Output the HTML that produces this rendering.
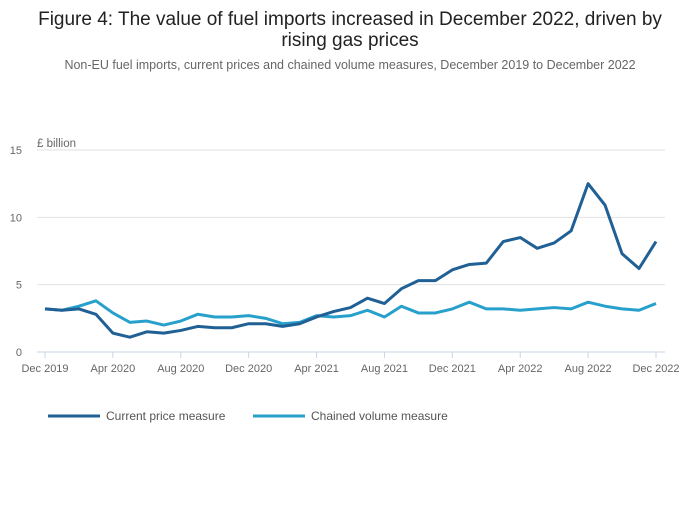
<!DOCTYPE html>
<html><head><meta charset="utf-8"><style>
body{margin:0;background:#fff;font-family:"Liberation Sans",sans-serif;}
</style></head><body>
<svg width="700" height="502" xmlns="http://www.w3.org/2000/svg" font-family="Liberation Sans, sans-serif">
<text x="350" y="25" text-anchor="middle" font-size="19" fill="#222">Figure 4: The value of fuel imports increased in December 2022, driven by</text>
<text x="350" y="46" text-anchor="middle" font-size="19" fill="#222">rising gas prices</text>
<text x="350" y="69" text-anchor="middle" font-size="12.5" fill="#666">Non-EU fuel imports, current prices and chained volume measures, December 2019 to December 2022</text>
<text x="37" y="147" font-size="11.5" fill="#666">£ billion</text>
<g id="grid"></g><g id="xaxis"></g><g id="lines"></g>
<g>
<line x1="48" y1="416" x2="100" y2="416" stroke="#206095" stroke-width="3"/>
<text x="106" y="420" font-size="12" fill="#555">Current price measure</text>
<line x1="253" y1="416" x2="305" y2="416" stroke="#27a0cc" stroke-width="3"/>
<text x="311" y="420" font-size="12" fill="#555">Chained volume measure</text>
</g>
</svg>
<script>
const months=37;
const yTicks=[0,5,10,15];
const xTickLabels=["Dec 2019","Apr 2020","Aug 2020","Dec 2020","Apr 2021","Aug 2021","Dec 2021","Apr 2022","Aug 2022","Dec 2022"];
const currentPrice=[3.2,3.1,3.2,2.8,1.4,1.1,1.5,1.4,1.6,1.9,1.8,1.8,2.1,2.1,1.9,2.1,2.6,3.0,3.3,4.0,3.6,4.7,5.3,5.3,6.1,6.5,6.6,8.2,8.5,7.7,8.1,9.0,12.5,10.9,7.3,6.2,8.2];
const chainedVolume=[3.2,3.1,3.4,3.8,2.9,2.2,2.3,2.0,2.3,2.8,2.6,2.6,2.7,2.5,2.1,2.2,2.7,2.6,2.7,3.1,2.6,3.4,2.9,2.9,3.2,3.7,3.2,3.2,3.1,3.2,3.3,3.2,3.7,3.4,3.2,3.1,3.6];
const NS="http://www.w3.org/2000/svg";
const x=i=>45+i*(656-45)/36;
const y=v=>352-v*(352-150)/15;
function mk(t,a,p){const e=document.createElementNS(NS,t);for(const k in a)e.setAttribute(k,a[k]);p.appendChild(e);return e;}
const g=document.getElementById('grid');
yTicks.forEach(v=>{
 const l=mk('line',{x1:37,x2:665,y1:y(v),y2:y(v),stroke:v===0?'#c8d4e6':'#e2e2e2','stroke-width':1},g);
 
 
 const t=mk('text',{x:22,y:y(v)+4,'text-anchor':'end','font-size':11,fill:'#666'},g);
 t.textContent=v;
 
 
});
const xa=document.getElementById('xaxis');
xTickLabels.forEach((lab,k)=>{
 const i=k*4;
 const tk=mk('line',{x1:x(i),x2:x(i),y1:352,y2:358,stroke:'#c8d4e6'},xa);
 
 
 const t=mk('text',{x:x(i),y:372,'text-anchor':'middle','font-size':11,fill:'#666'},xa);
 t.textContent=lab;
 
 
});
const L=document.getElementById('lines');
function line(d,c,n){
 const p=mk('polyline',{points:d.map((v,i)=>x(i)+','+y(v)).join(' '),fill:'none',stroke:c,'stroke-width':3,'stroke-linejoin':'round'},L);
 
 
}
line(chainedVolume,'#27a0cc','chained-volume-line');
line(currentPrice,'#206095','current-price-line');
</script>
</body></html>
